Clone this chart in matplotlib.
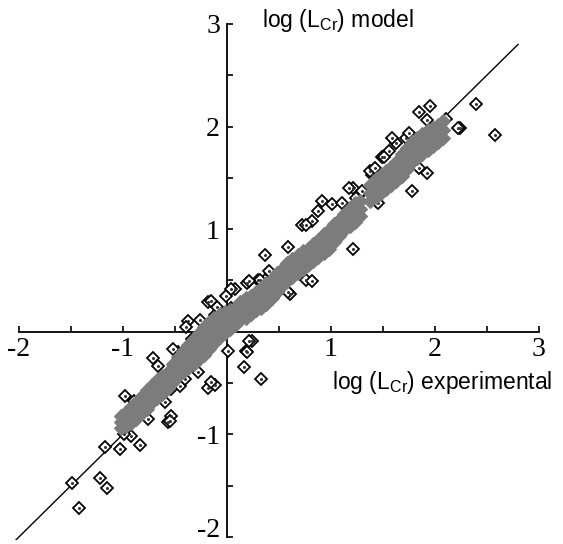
import matplotlib
matplotlib.use("Agg")
import matplotlib.pyplot as plt
from matplotlib.transforms import ScaledTranslation

plt.rcParams['mathtext.fontset'] = 'custom'
plt.rcParams['mathtext.rm'] = 'Liberation Sans'
plt.rcParams['mathtext.it'] = 'Liberation Sans'

# dense (grey) band of model vs experimental points
band_x = [-1.02, -0.97, -0.92, -0.87, -0.82, -0.77, -0.72, -0.67, -0.62, -0.57,
          -0.52, -0.47, -0.42, -0.37, -0.32, -0.27, -0.22, -0.17, -0.12, -0.07,
          -0.02, 0.03, 0.08, 0.13, 0.18, 0.23, 0.28, 0.33, 0.38, 0.43,
          0.48, 0.53, 0.58, 0.63, 0.68, 0.73, 0.78, 0.83, 0.88, 0.93,
          0.98, 1.03, 1.08, 1.13, 1.18, 1.23, 1.28, 1.38, 1.43, 1.48,
          1.53, 1.58, 1.63, 1.68, 1.73, 1.78, 1.83, 1.88, 1.93, 1.98,
          2.03, 2.08]
band_lo = [-0.94, -0.92, -0.89, -0.85, -0.79, -0.75, -0.69, -0.65, -0.61, -0.55,
           -0.49, -0.43, -0.39, -0.35, -0.31, -0.27, -0.23, -0.17, -0.11, -0.05,
           -0.01, 0.03, 0.07, 0.11, 0.13, 0.17, 0.21, 0.23, 0.27, 0.33,
           0.39, 0.45, 0.49, 0.53, 0.57, 0.61, 0.65, 0.69, 0.73, 0.77,
           0.81, 0.87, 0.93, 0.99, 1.03, 1.07, 1.13, 1.27, 1.31, 1.35,
           1.39, 1.43, 1.47, 1.52, 1.59, 1.65, 1.69, 1.73, 1.77, 1.81,
           1.85, 1.89]
band_mid = [-0.88, -0.85, -0.81, -0.77, -0.71, -0.66, -0.60, -0.56, -0.52, -0.47,
            -0.40, -0.34, -0.29, -0.24, -0.19, -0.14, -0.09, -0.04, 0.01, 0.06,
            0.09, 0.12, 0.15, 0.20, 0.23, 0.26, 0.30, 0.33, 0.37, 0.42,
            0.48, 0.53, 0.58, 0.62, 0.66, 0.70, 0.73, 0.77, 0.81, 0.86,
            0.90, 0.96, 1.01, 1.07, 1.12, 1.16, 1.20, 1.35, 1.40, 1.44,
            1.48, 1.52, 1.56, 1.62, 1.69, 1.75, 1.79, 1.83, 1.87, 1.90,
            1.93, 1.97]
band_hi = [-0.82, -0.78, -0.73, -0.69, -0.63, -0.57, -0.52, -0.47, -0.43, -0.39,
           -0.31, -0.25, -0.19, -0.13, -0.07, -0.01, 0.05, 0.09, 0.13, 0.17,
           0.19, 0.21, 0.23, 0.29, 0.33, 0.35, 0.39, 0.43, 0.47, 0.51,
           0.57, 0.61, 0.67, 0.71, 0.75, 0.79, 0.81, 0.85, 0.89, 0.95,
           0.99, 1.05, 1.09, 1.15, 1.21, 1.25, 1.27, 1.43, 1.49, 1.53,
           1.57, 1.61, 1.65, 1.73, 1.79, 1.85, 1.89, 1.93, 1.97, 1.99,
           2.01, 2.05]

# individual (open diamond) points
open_x = [-1.42, -1.49, -1.22, -1.15, -1.17, -1.03, -0.84, -0.92, -0.99, -0.57,
          -0.54, -0.98, -0.71, -0.18, -0.11, 0.16, 0.33, 0.18, 0.24, 0.01,
          -0.18, -0.66, -0.47, -0.89, -0.60, -0.54, -0.45, -0.40, -0.55, -0.76,
          -1.00, -0.15, -0.28, -0.37, -0.11, -0.01, 0.04, -0.10, 0.08, 0.19,
          0.30, 0.40, 0.37, 0.61, 0.76, 0.82, 0.21, 0.19, -0.26, -0.39,
          -0.34, -0.52, 0.37, 0.59, 0.72, 0.82, 0.91, 0.88, 1.01, 1.11,
          1.21, 1.30, 1.21, 0.59, 0.32, 0.21, -0.15, 0.04, 1.43, 1.78,
          1.49, 1.40, 1.92, 1.85, 1.17, 1.24, 1.38, 1.56, 1.63, 1.72,
          1.75, 1.92, 2.11, 2.24, 1.45, 1.16, 0.76, 2.40, 2.58, 1.85,
          1.95, 2.22, 1.59, 1.42, 1.51]
open_y = [-1.72, -1.47, -1.43, -1.52, -1.12, -1.14, -1.10, -1.02, -1.00, -0.88,
          -0.82, -0.63, -0.26, -0.55, -0.52, -0.34, -0.46, -0.19, -0.09, -0.19,
          0.29, -0.33, -0.20, -0.68, -0.69, -0.56, -0.53, -0.46, -0.87, -0.85,
          -0.83, -0.49, -0.39, 0.10, 0.16, 0.35, 0.23, 0.24, 0.42, 0.47,
          0.50, 0.59, 0.50, 0.37, 0.50, 0.49, -0.09, -0.20, 0.11, 0.05,
          -0.07, -0.17, 0.75, 0.83, 1.04, 1.08, 1.27, 1.18, 1.24, 1.25,
          1.40, 1.37, 0.81, 0.39, 0.50, 0.49, 0.30, 0.42, 1.27, 1.37,
          1.70, 1.53, 1.55, 1.60, 1.40, 1.30, 1.57, 1.76, 1.84, 1.89,
          1.94, 2.06, 2.07, 1.99, 1.25, 1.04, 1.04, 2.22, 1.92, 2.14,
          2.20, 1.99, 1.89, 1.60, 1.70]

line_x = [-2.05, 2.8]
line_y = [-2.05, 2.8]

x_ticks = [-2, -1, 1, 2, 3]
y_ticks = [-2, -1, 1, 2, 3]
minor_ticks = [-1.5, -0.5, 0.5, 1.5, 2.5]

fig = plt.figure(figsize=(5.63, 5.44), dpi=100)
ax = fig.add_axes([0.006, 0.0074, 0.988, 0.9675])
ax.set_xlim(-2.15, 3.2)
ax.set_ylim(-2.03, 3.1)

ax.plot(line_x, line_y, color='black', lw=1.0, zorder=1)
ax.plot(open_x, open_y, linestyle='none', marker='D', markersize=6.5,
        markerfacecolor='white', markeredgecolor='black', markeredgewidth=1.3, zorder=2)
ax.plot(open_x, open_y, linestyle='none', marker='o', markersize=1.2,
        color='#333333', zorder=2.1)
for yy in (band_lo, band_mid, band_hi):
    ax.plot(band_x, yy, linestyle='none', marker='D', markersize=6.8,
            markerfacecolor='#7c7c7c', markeredgecolor='#7c7c7c', markeredgewidth=0.8, zorder=3)

for s in ['top', 'right']:
    ax.spines[s].set_visible(False)
ax.spines['left'].set_position(('data', 0))
ax.spines['bottom'].set_position(('data', 0))
ax.spines['left'].set_bounds(-2, 3)
ax.spines['bottom'].set_bounds(-2, 3)
for s in ['left', 'bottom']:
    ax.spines[s].set_linewidth(1.3)
    ax.spines[s].set_zorder(0.5)

ax.set_xticks(x_ticks)
ax.set_xticklabels([str(t) for t in x_ticks])
ax.set_yticks(y_ticks)
ax.set_yticklabels([str(t) for t in y_ticks])
ax.set_xticks(minor_ticks, minor=True)
ax.set_yticks(minor_ticks, minor=True)
ax.tick_params(which='both', direction='in', length=4, width=1.2, color='black')
ax.tick_params(axis='x', which='major', pad=4)
ax.tick_params(axis='y', which='major', pad=5)
for lab in ax.get_xticklabels() + ax.get_yticklabels():
    lab.set_fontfamily('Liberation Serif')
    lab.set_fontsize(20)
ylabs = ax.get_yticklabels()
ylabs[0].set_transform(ylabs[0].get_transform() + ScaledTranslation(0, 7 / 72, fig.dpi_scale_trans))
ax.patch.set_visible(False)

fig.text(262 / 563, 1 - 20 / 544, r'log (L$_{\mathrm{Cr}}$) model', family='Liberation Sans',
         fontsize=16.5, ha='left', va='center')
fig.text(332 / 563, 1 - 382 / 544, r'log (L$_{\mathrm{Cr}}$) experimental', family='Liberation Sans',
         fontsize=16.5, ha='left', va='center')

fig.savefig('out.png', dpi=100)
